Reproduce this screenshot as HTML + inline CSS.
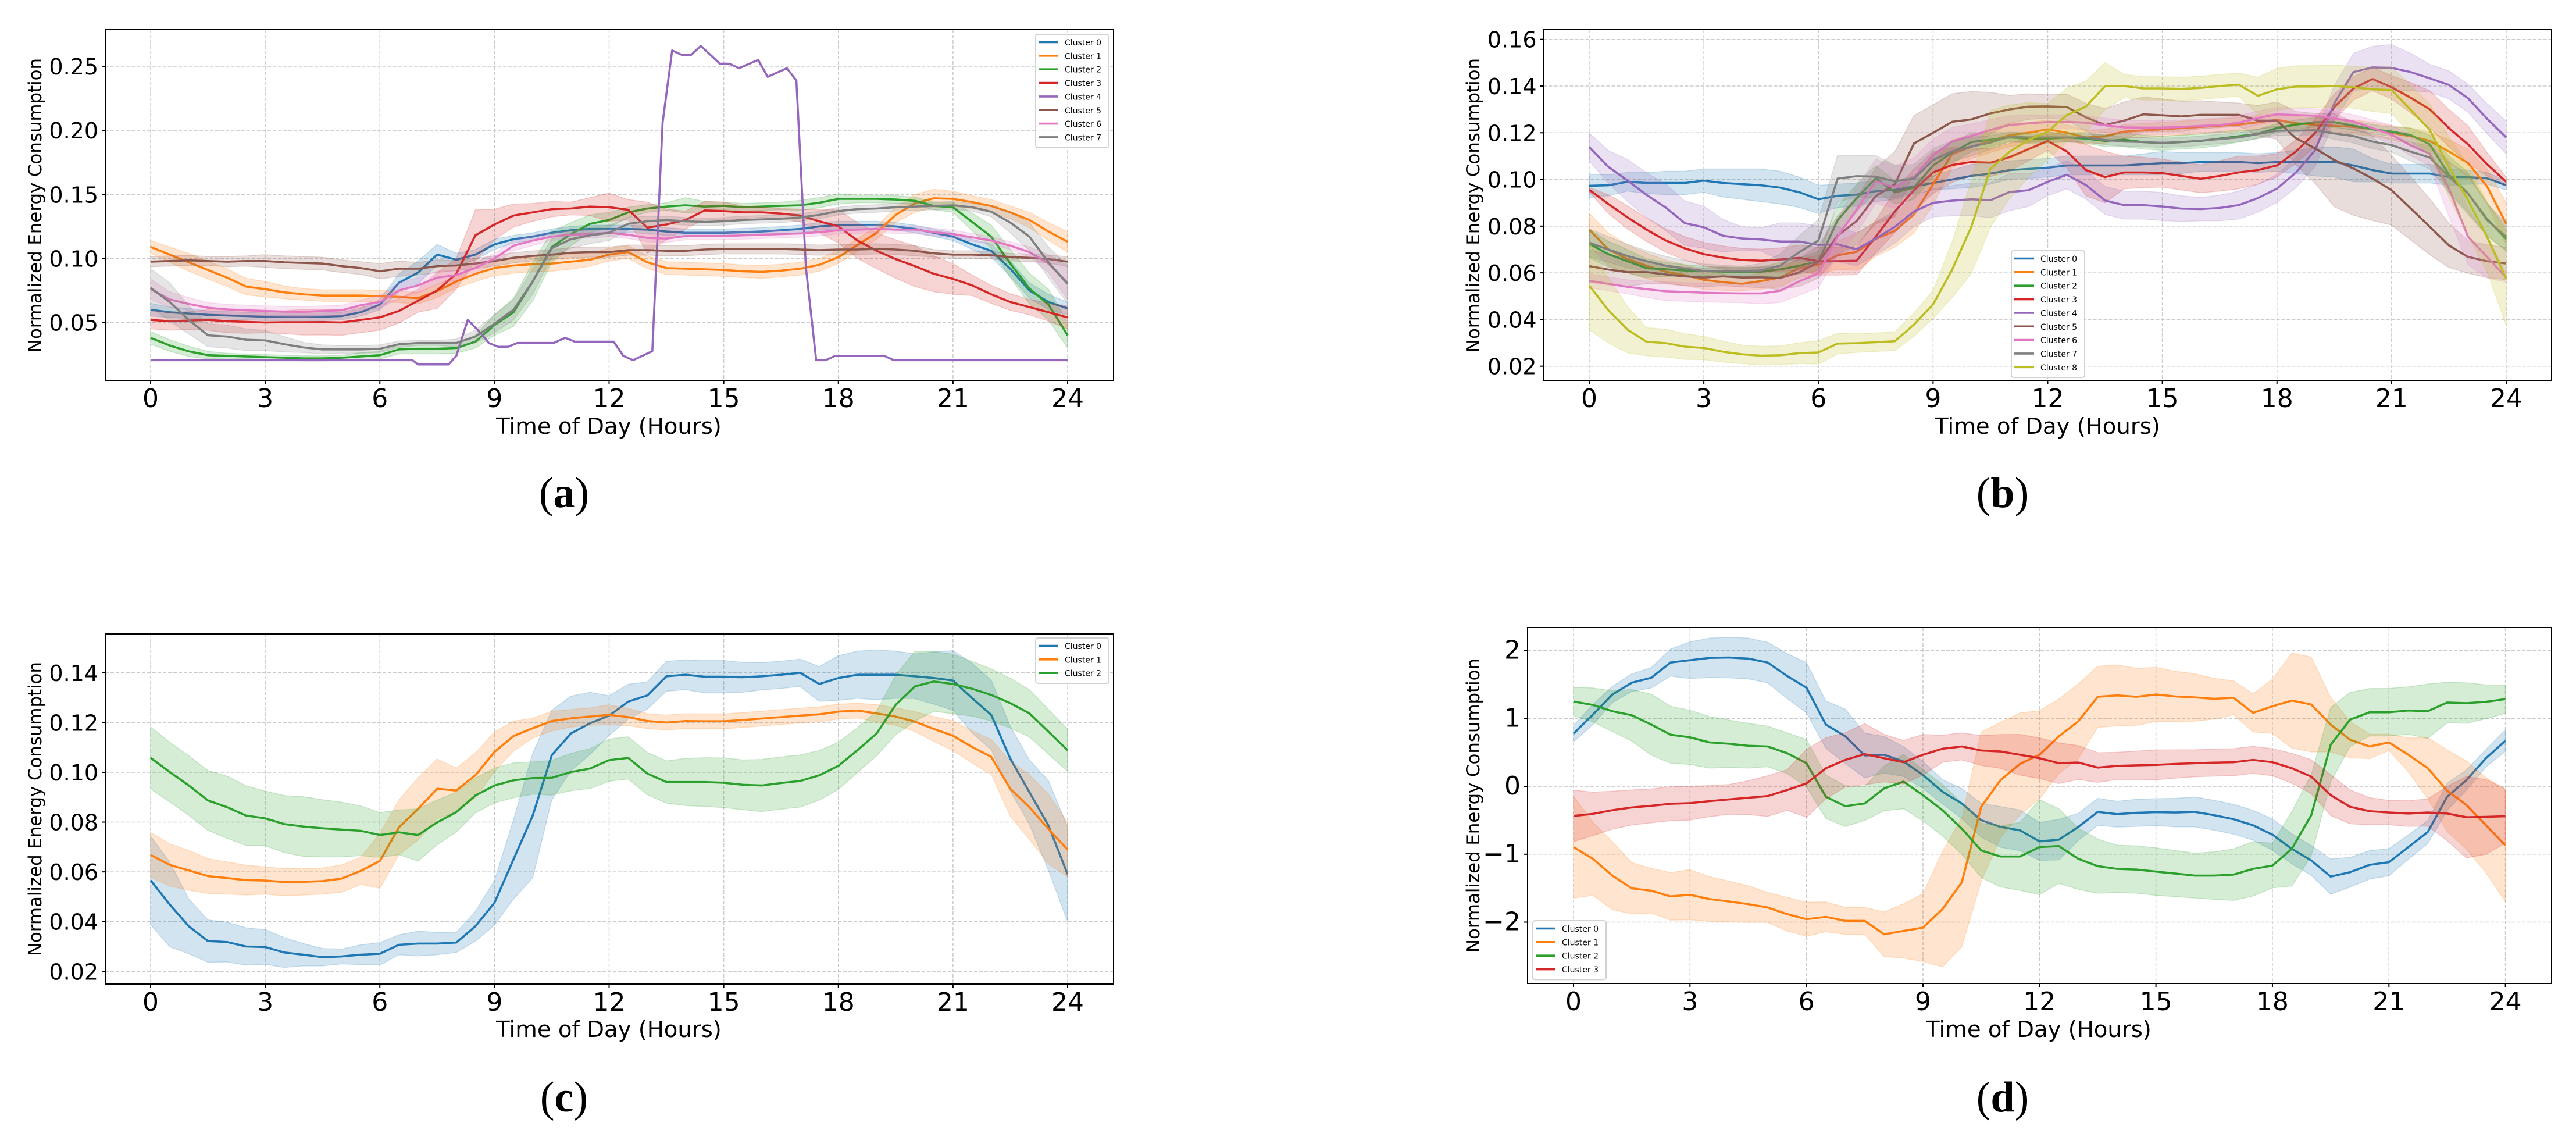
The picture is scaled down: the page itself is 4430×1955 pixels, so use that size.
<!DOCTYPE html>
<html lang="en">
<head>
<meta charset="utf-8">
<title>Normalized energy consumption clusters</title>
<style>
html,body{margin:0;padding:0;background:#fff;width:4430px;height:1955px;overflow:hidden}
svg{display:block}
text{font-family:"DejaVu Sans","Liberation Sans",sans-serif;fill:#000}
.caption{font-family:"Liberation Serif","DejaVu Serif",serif}
</style>
</head>
<body>
<svg id="figure" xmlns="http://www.w3.org/2000/svg" width="4430" height="1955" viewBox="0 0 4430 1955"></svg>
<script>
const halfHours = [
0,0.5,1,1.5,2,2.5,3,3.5,4,4.5,5,5.5,
6,6.5,7,7.5,8,8.5,9,9.5,10,10.5,11,11.5,
12,12.5,13,13.5,14,14.5,15,15.5,16,16.5,17,17.5,
18,18.5,19,19.5,20,20.5,21,21.5,22,22.5,23,23.5,24];
const xTickValues = [0,3,6,9,12,15,18,21,24];
const aYTicks = [0.05,0.10,0.15,0.20,0.25];
const bYTicks = [0.02,0.04,0.06,0.08,0.10,0.12,0.14,0.16];
const cYTicks = [0.02,0.04,0.06,0.08,0.10,0.12,0.14];
const dYTicks = [-2,-1,0,1,2];

/* Chart (a) */
const a0Mean = [.060,.058,.057,.056,.0555,.055,.0545,.0545,.0545,.0545,.055,.058,
.064,.081,.089,.103,.099,.103,.111,.115,.117,.120,.122,.123,
.123,.123,.1225,.121,.120,.120,.120,.1205,.121,.122,.123,.125,
.126,.126,.126,.125,.123,.120,.117,.111,.106,.092,.075,.066,.061];
const a0Std = [.005,.004,.004,.003,.003,.003,.003,.003,.003,.003,.003,.003,
.004,.007,.009,.008,.005,.004,.004,.003,.003,.003,.003,.003,
.003,.003,.003,.003,.003,.003,.003,.003,.003,.003,.003,.003,
.003,.003,.003,.003,.003,.003,.003,.004,.005,.006,.006,.006,.005];
const a1Mean = [.109,.103,.097,.091,.085,.078,.076,.0735,.072,.071,.071,.071,
.0705,.070,.069,.0745,.082,.088,.0925,.0945,.0955,.096,.0975,.099,
.103,.105,.097,.0925,.092,.0915,.091,.090,.0895,.0905,.092,.095,
.101,.1105,.120,.134,.143,.147,.1465,.144,.141,.136,.130,.121,.113];
const a1Std = [.005,.006,.007,.007,.007,.0065,.006,.005,.0045,.0045,.0045,.0045,
.0045,.0045,.0045,.005,.005,.006,.006,.006,.006,.006,.006,.005,
.005,.005,.005,.005,.005,.005,.005,.005,.005,.005,.005,.005,
.005,.005,.005,.006,.007,.007,.006,.005,.005,.005,.006,.007,.008];
const a2Mean = [.038,.032,.0275,.0245,.024,.0235,.023,.0225,.022,.022,.0225,.0235,
.0245,.029,.0295,.0295,.030,.035,.048,.058,.082,.109,.119,.127,
.130,.136,.139,.1405,.1415,.1405,.141,.140,.1405,.141,.1415,.1435,
.1465,.1465,.1465,.146,.145,.141,.140,.1285,.117,.096,.0765,.064,.040];
const a2Std = [.005,.0045,.004,.003,.002,.002,.002,.002,.002,.002,.002,.003,
.003,.0035,.004,.004,.004,.005,.008,.011,.015,.012,.009,.007,
.006,.004,.003,.003,.006,.004,.003,.003,.003,.003,.004,.004,
.004,.003,.003,.003,.003,.003,.004,.007,.009,.011,.012,.012,.010];
const a3Mean = [.052,.051,.0515,.052,.051,.0505,.050,.0502,.0502,.0503,.050,.052,
.054,.059,.067,.075,.088,.118,.1265,.1335,.136,.1385,.139,.1405,
.140,.138,.124,.1265,.130,.1375,.137,.136,.136,.135,.1335,.129,
.125,.114,.106,.0995,.094,.088,.084,.079,.072,.066,.062,.058,.054];
const a3Std = [.007,.007,.007,.008,.009,.009,.008,.009,.010,.010,.010,.010,
.010,.0095,.009,.014,.012,.020,.012,.009,.007,.006,.005,.007,
.011,.008,.020,.012,.007,.007,.007,.005,.004,.004,.005,.009,
.013,.014,.014,.015,.016,.014,.012,.008,.007,.0065,.006,.007,.009];
const a4Hours = [0,6.85,7,7.8,8,8.3,8.6,8.85,9.1,9.35,9.6,10.55,10.85,11.1,12.12,12.37,12.63,13.13,13.4,13.65,13.9,14.15,14.4,14.65,14.9,15.15,15.4,15.9,16.15,16.65,16.9,17.15,17.42,17.67,17.92,19.2,19.45,24];
const a4Mean = [.0206,.0206,.0172,.0172,.024,.052,.043,.034,.031,.031,.034,.034,.038,.035,.035,.024,.0206,.0276,.206,.2624,.259,.259,.266,.259,.252,.252,.2485,.255,.2418,.2485,.239,.093,.0206,.0206,.024,.024,.0206,.0206];
const a5Mean = [.0975,.098,.0985,.098,.0975,.098,.098,.097,.0965,.096,.094,.0925,
.090,.092,.092,.094,.0945,.096,.098,.1005,.102,.103,.1045,.105,
.105,.1065,.1065,.106,.106,.107,.1075,.1075,.1075,.1075,.107,.1065,
.107,.107,.1075,.107,.106,.104,.103,.103,.1025,.101,.1005,.0995,.0975];
const a5Std = [.004,.004,.004,.0035,.004,.004,.005,.005,.005,.005,.005,.005,
.006,.006,.005,.005,.004,.004,.004,.004,.004,.004,.004,.004,
.004,.004,.004,.004,.004,.004,.004,.004,.004,.004,.004,.004,
.004,.004,.004,.004,.004,.003,.003,.003,.003,.003,.003,.003,.004];
const a6Mean = [.076,.068,.0645,.0615,.0602,.0595,.059,.0585,.0583,.059,.0595,.0635,
.066,.075,.079,.085,.087,.0925,.100,.110,.114,.117,.1185,.119,
.120,.1185,.116,.1155,.1175,.1175,.1175,.118,.1185,.119,.1195,.1205,
.122,.1225,.123,.1225,.1225,.1205,.119,.1165,.114,.110,.105,.096,.081];
const a6Std = [.008,.006,.005,.004,.004,.004,.004,.004,.004,.004,.004,.004,
.005,.006,.006,.005,.004,.004,.004,.004,.004,.003,.003,.003,
.003,.003,.003,.003,.003,.003,.003,.003,.003,.003,.003,.003,
.003,.003,.003,.003,.003,.003,.003,.003,.003,.003,.004,.007,.013];
const a7Mean = [.077,.066,.052,.040,.039,.0365,.036,.033,.0305,.029,.029,.029,
.0295,.033,.034,.034,.034,.039,.049,.060,.082,.108,.115,.118,
.120,.127,.129,.130,.129,.1285,.129,.130,.1305,.131,.132,.134,
.137,.1385,.139,.140,.1405,.141,.1415,.140,.1365,.128,.117,.097,.080];
const a7Std = [.015,.015,.011,.009,.009,.0085,.008,.006,.004,.0035,.003,.003,
.003,.0025,.002,.002,.003,.005,.007,.008,.010,.007,.007,.0065,
.006,.005,.004,.003,.003,.003,.003,.003,.003,.003,.003,.003,
.003,.003,.003,.003,.003,.003,.003,.003,.004,.008,.011,.012,.015];

/* Chart (b) */
const b0Mean = [.0973,.0975,.099,.0985,.0985,.0985,.0995,.0985,.098,.0975,.0965,.0945,
.0915,.093,.0935,.095,.0955,.097,.0985,.100,.1015,.1025,.104,.1045,
.105,.106,.106,.106,.106,.1065,.107,.107,.1075,.1075,.1075,.107,
.1075,.1075,.1075,.1075,.106,.104,.1025,.1025,.1025,.101,.101,.1005,.0975];
const b0Std = [.005,.0045,.004,.0045,.005,.005,.005,.006,.0065,.007,.007,.0065,
.006,.005,.005,.0045,.004,.0035,.003,.004,.005,.0045,.004,.004,
.004,.004,.004,.004,.004,.0045,.005,.0045,.004,.004,.004,.004,
.004,.005,.006,.0065,.007,.005,.004,.004,.004,.0035,.003,.0025,.002];
const b1Mean = [.0785,.070,.066,.063,.0605,.059,.057,.056,.0553,.0565,.058,.062,
.0635,.0675,.069,.0745,.078,.085,.098,.111,.114,.1165,.119,.120,
.1215,.120,.118,.1185,.1205,.121,.1215,.122,.1225,.123,.1235,.1245,
.1255,.124,.1235,.123,.1225,.1215,.120,.1185,.1165,.112,.107,.097,.081];
const b1Std = [.007,.007,.006,.0055,.005,.0045,.004,.0035,.003,.0035,.004,.004,
.004,.006,.008,.0075,.007,.008,.009,.006,.005,.005,.005,.0045,
.004,.0035,.003,.003,.003,.003,.003,.003,.003,.003,.003,.003,
.003,.003,.003,.003,.003,.003,.003,.0035,.004,.005,.006,.0075,.009];
const b2Mean = [.0725,.068,.065,.062,.0615,.061,.0608,.0605,.0605,.0605,.0615,.063,
.065,.0825,.092,.1005,.0945,.0965,.106,.1115,.116,.117,.118,.1175,
.1175,.118,.1175,.1165,.117,.116,.1155,.116,.1165,.1175,.1185,.1195,
.122,.1235,.1245,.1245,.123,.1215,.1205,.119,.115,.102,.094,.083,.0745];
const b2Std = [.006,.0055,.005,.004,.003,.0025,.002,.002,.002,.002,.003,.0035,
.004,.006,.006,.0055,.005,.005,.005,.0045,.004,.003,.002,.002,
.002,.002,.002,.0025,.003,.003,.003,.003,.003,.003,.0025,.002,
.002,.002,.002,.002,.002,.002,.002,.003,.004,.008,.009,.007,.005];
const b3Mean = [.0956,.0895,.0838,.0785,.0739,.0705,.068,.0665,.0655,.0652,.0657,.0664,
.065,.065,.0652,.0755,.0863,.0954,.103,.1062,.1075,.1072,.1095,.113,
.1165,.112,.104,.101,.103,.103,.1027,.1015,.1003,.1015,.103,.104,
.106,.112,.120,.131,.139,.143,.1395,.135,.130,.122,.115,.1065,.099];
const b3Std = [.001,.004,.005,.005,.005,.005,.005,.005,.005,.005,.005,.0055,
.006,.006,.006,.007,.009,.009,.009,.0075,.006,.006,.006,.005,
.004,.007,.011,.011,.007,.0065,.006,.006,.006,.0065,.007,.006,
.005,.005,.006,.0055,.005,.005,.005,.0065,.008,.008,.008,.005,.002];
const b4Mean = [.1139,.1054,.0996,.0934,.088,.0813,.0795,.0759,.0747,.0743,.0734,.0734,
.072,.0722,.0701,.0747,.0797,.0863,.090,.0909,.0915,.0911,.0946,.0954,
.099,.102,.0976,.091,.089,.089,.0884,.0875,.0873,.0878,.089,.092,
.0961,.103,.1126,.1326,.146,.148,.1478,.146,.1433,.1405,.1348,.126,.118];
const b4Std = [.006,.007,.009,.0095,.010,.0095,.009,.007,.005,.005,.008,.008,
.008,.0075,.007,.007,.007,.0065,.006,.0065,.007,.0075,.008,.007,
.006,.006,.006,.006,.006,.006,.006,.0055,.005,.0055,.006,.006,
.006,.0065,.007,.0075,.008,.009,.010,.008,.006,.006,.006,.0065,.007];
const b5Mean = [.0629,.0614,.0603,.0603,.0593,.0585,.058,.0585,.058,.0581,.0578,.0602,
.0647,.0759,.0822,.0929,.098,.1154,.120,.1247,.1257,.1283,.130,.1312,
.1313,.131,.1266,.1233,.1252,.1279,.1275,.127,.1277,.1277,.1277,.1252,
.1252,.1176,.1133,.1083,.1047,.1004,.0954,.0876,.0797,.0718,.0668,.065,.064];
const b5Std = [.007,.0065,.006,.005,.004,.004,.004,.004,.004,.0045,.005,.006,
.007,.0085,.010,.012,.014,.012,.012,.012,.012,.009,.006,.0055,
.005,.0055,.006,.007,.008,.0075,.007,.0065,.006,.0055,.005,.0065,
.008,.0115,.015,.020,.020,.018,.015,.0135,.012,.0095,.007,.007,.007];
const b6Mean = [.0566,.0553,.054,.053,.0521,.0518,.0515,.0513,.0512,.0512,.0523,.0564,
.0597,.0755,.0871,.0992,.0967,.1012,.1104,.1162,.1187,.1212,.1233,.124,
.1246,.1247,.1243,.1232,.1223,.1222,.1222,.1225,.1229,.1233,.1243,.1263,
.1279,.1276,.1273,.1262,.1248,.122,.1192,.1146,.111,.0962,.0755,.0668,.058];
const b6Std = [.003,.003,.003,.0035,.004,.004,.004,.004,.004,.0045,.005,.006,
.006,.008,.010,.0095,.009,.008,.007,.006,.005,.0045,.004,.0035,
.003,.003,.003,.003,.003,.003,.003,.003,.003,.003,.003,.003,
.003,.003,.003,.003,.003,.0035,.004,.0045,.005,.012,.012,.009,.002];
const b7Mean = [.0729,.0700,.0672,.065,.0631,.0618,.0608,.0608,.0608,.061,.0631,.0689,
.0739,.1004,.1014,.1012,.0992,.1004,.1083,.112,.1141,.1158,.1183,.118,
.118,.118,.118,.1169,.1162,.116,.1157,.116,.1166,.1173,.118,.1195,
.1209,.1209,.1211,.1197,.1186,.1162,.1147,.1119,.1094,.1011,.094,.0826,.0754];
const b7Std = [.006,.0055,.005,.0045,.004,.0035,.003,.0025,.002,.003,.005,.007,
.009,.010,.009,.009,.007,.006,.005,.0045,.004,.003,.002,.002,
.002,.002,.002,.002,.002,.002,.002,.002,.002,.002,.002,.002,
.002,.002,.002,.0025,.003,.003,.003,.004,.005,.0065,.008,.007,.006];
const b8Mean = [.0546,.044,.0357,.0305,.0299,.0284,.0278,.0262,.0251,.0245,.0247,.0256,
.0259,.0297,.0299,.0303,.0307,.0378,.0465,.0614,.0797,.1045,.1119,.1169,
.1205,.1276,.1312,.14,.14,.139,.139,.1388,.1392,.14,.1406,.1358,
.1386,.1398,.1398,.14,.1395,.1386,.1383,.1298,.1212,.1054,.0911,.0754,.0575];
const b8Std = [.019,.014,.010,.006,.006,.0055,.005,.0045,.004,.004,.004,.0045,
.005,.0045,.004,.004,.004,.005,.006,.012,.020,.025,.020,.016,
.012,.0115,.011,.010,.005,.005,.005,.005,.005,.005,.005,.008,
.009,.009,.009,.009,.009,.0095,.010,.0105,.011,.013,.015,.015,.020];

/* Chart (c) */
const c0Mean = [.0566,.0469,.0381,.0322,.0318,.03,.0298,.0276,.0267,.0257,.026,.0267,
.0271,.0307,.0312,.0312,.0316,.0381,.0476,.0651,.0826,.1069,.1156,.1197,
.1228,.1284,.1309,.1386,.1392,.1384,.1384,.1382,.1386,.1392,.14,.1355,
.1379,.1392,.1392,.1392,.1386,.1379,.1369,.1298,.1231,.1055,.092,.0786,.059];
const c0Std = [.0178,.017,.011,.0085,.008,.0075,.007,.006,.0045,.0035,.003,.004,
.0045,.004,.005,.0045,.004,.006,.009,.016,.025,.018,.015,.0125,
.008,.007,.0055,.006,.006,.0065,.0065,.006,.0055,.0055,.0055,.007,
.009,.0095,.010,.0095,.009,.0105,.012,.014,.014,.013,.013,.018,.019];
const c1Mean = [.0668,.0628,.0606,.0583,.0575,.0567,.0565,.0559,.056,.0563,.0573,.0604,
.0644,.0779,.0853,.0934,.0927,.0988,.1082,.1146,.1177,.1206,.1217,.1224,
.1231,.1222,.1206,.12,.1206,.1205,.1205,.121,.1216,.1222,.1228,.1233,
.1244,.1248,.1237,.1224,.1204,.1174,.1147,.1102,.1062,.0934,.086,.0772,.0689];
const c1Std = [.009,.0085,.008,.007,.0065,.006,.0055,.0055,.0053,.0053,.0055,.0055,
.011,.011,.0125,.012,.009,.009,.008,.006,.004,.004,.0035,.0035,
.004,.0035,.003,.003,.003,.003,.003,.003,.003,.003,.003,.003,
.003,.003,.0035,.0035,.004,.005,.006,.0065,.007,.011,.013,.014,.011];
const c2Mean = [.1058,.1001,.0947,.0887,.086,.0826,.0815,.0792,.0782,.0775,.077,.0765,
.0748,.0759,.0748,.0799,.084,.0907,.0947,.0968,.0977,.0978,.1001,.1015,
.1049,.1058,.0995,.0961,.0961,.0961,.0958,.095,.0947,.0957,.0965,.0988,
.1026,.1089,.1156,.1271,.1345,.1365,.1355,.1336,.1311,.1278,.1237,.1163,.1089];
const c2Std = [.0125,.012,.012,.012,.0125,.012,.011,.0115,.012,.0115,.011,.010,
.009,.009,.0105,.009,.008,.007,.007,.007,.0065,.007,.0075,.008,
.0085,.0085,.0085,.0085,.0095,.0098,.010,.010,.0105,.0105,.0105,.010,
.0095,.009,.009,.012,.014,.012,.012,.011,.0105,.010,.0095,.009,.0085];

/* Chart (d) */
const d0Mean = [.776,1.058,1.354,1.527,1.60,1.824,1.859,1.893,1.898,1.883,1.824,1.626,
1.453,.91,.737,.455,.465,.366,.168,-.079,-.252,-.499,-.598,-.648,
-.811,-.786,-.598,-.376,-.41,-.39,-.38,-.386,-.376,-.425,-.484,-.573,
-.712,-.92,-1.092,-1.33,-1.265,-1.157,-1.117,-.895,-.672,-.153,.094,.415,.672];
const d0Std = [.12,.15,.12,.13,.15,.2,.27,.29,.3,.3,.3,.33,
.37,.35,.4,.33,.27,.22,.2,.18,.22,.25,.3,.3,
.28,.3,.2,.2,.19,.2,.2,.21,.22,.22,.22,.22,
.23,.22,.22,.26,.22,.21,.2,.18,.17,.2,.15,.13,.16];
const d1Mean = [-.895,-1.068,-1.315,-1.503,-1.537,-1.621,-1.597,-1.661,-1.696,-1.735,-1.784,-1.883,
-1.957,-1.923,-1.982,-1.982,-2.18,-2.13,-2.081,-1.81,-1.414,-.30,.094,.331,
.465,.737,.959,1.32,1.34,1.32,1.354,1.325,1.31,1.29,1.305,1.083,
1.18,1.265,1.206,.91,.687,.588,.648,.465,.267,-.064,-.277,-.573,-.87];
const d1Std = [.75,.54,.5,.38,.33,.35,.37,.33,.3,.27,.22,.25,
.25,.22,.2,.2,.33,.4,.5,.85,.95,1.1,.85,.75,
.65,.55,.55,.45,.45,.42,.4,.37,.35,.3,.25,.28,
.4,.7,.7,.4,.27,.18,.12,.25,.45,.6,.65,.7,.83];
const d2Mean = [1.25,1.2,1.107,1.048,.91,.761,.722,.648,.628,.598,.588,.489,
.341,-.153,-.292,-.252,-.03,.069,-.129,-.351,-.623,-.944,-1.033,-1.033,
-.895,-.88,-1.068,-1.176,-1.216,-1.226,-1.256,-1.285,-1.315,-1.315,-1.3,-1.216,
-1.167,-.92,-.425,.613,.984,1.092,1.092,1.117,1.107,1.236,1.226,1.246,1.285];
const d2Std = [.21,.25,.3,.38,.45,.42,.4,.38,.35,.33,.3,.3,
.35,.32,.3,.25,.33,.4,.38,.38,.38,.4,.45,.5,
.7,.55,.45,.4,.35,.35,.35,.34,.33,.35,.38,.4,
.33,.55,.6,.55,.4,.35,.35,.35,.4,.3,.3,.25,.21];
const d3Mean = [-.435,-.405,-.351,-.311,-.287,-.257,-.247,-.218,-.193,-.168,-.143,-.054,
.044,.267,.39,.475,.415,.356,.465,.554,.588,.529,.514,.465,
.415,.341,.351,.277,.302,.31,.316,.33,.341,.35,.356,.39,
.356,.267,.143,-.129,-.302,-.366,-.386,-.4,-.386,-.4,-.455,-.45,-.44];
const d3Std = [.38,.32,.28,.26,.25,.25,.25,.23,.22,.25,.3,.3,
.5,.45,.4,.45,.35,.32,.3,.2,.2,.22,.25,.3,
.3,.3,.25,.22,.2,.21,.22,.21,.2,.2,.2,.2,
.2,.22,.25,.3,.25,.2,.18,.19,.2,.4,.6,.55,.4];

const palette = ['#1f77b4','#ff7f0e','#2ca02c','#d62728','#9467bd','#8c564b','#e377c2','#7f7f7f','#bcbd22'];
const NS = 'http://www.w3.org/2000/svg';
const root = document.getElementById('figure');

function make(parent, tag, attrs, content) {
  const el = document.createElementNS(NS, tag);
  for (const k in attrs) el.setAttribute(k, attrs[k]);
  if (content !== undefined) el.textContent = content;
  parent.appendChild(el);
  return el;
}

function drawChart(cfg) {
  const g = make(root, 'g', {});
  
  

  const xScale = h => cfg.x0 + (h / 24) * (cfg.x24 - cfg.x0);
  const yScale = v => cfg.yA + (v - cfg.vA) / (cfg.vB - cfg.vA) * (cfg.yB - cfg.yA);

  // grid
  xTickValues.forEach(t => {
    const l = make(g, 'line', {x1: xScale(t), x2: xScale(t), y1: cfg.top, y2: cfg.bottom, stroke: '#cbcbcb', 'stroke-width': 1.5, 'stroke-dasharray': '6 3'});
    
    
  });
  cfg.yTicks.forEach(t => {
    const l = make(g, 'line', {x1: cfg.left, x2: cfg.right, y1: yScale(t), y2: yScale(t), stroke: '#cbcbcb', 'stroke-width': 1.5, 'stroke-dasharray': '6 3'});
    
    
  });

  // bands then lines per series, in order
  cfg.series.forEach((s, i) => {
    const color = palette[i];
    const hrs = s.hours || halfHours;
    if (s.std) {
      const upper = hrs.map((h, k) => xScale(h).toFixed(1) + ',' + yScale(s.mean[k] + s.std[k]).toFixed(1));
      const lower = hrs.map((h, k) => xScale(h).toFixed(1) + ',' + yScale(s.mean[k] - s.std[k]).toFixed(1)).reverse();
      const band = make(g, 'polygon', {points: upper.concat(lower).join(' '), fill: color, 'fill-opacity': 0.2, stroke: color, 'stroke-opacity': 0.2, 'stroke-width': 1.5});
      
      
    }
    const line = make(g, 'polyline', {points: hrs.map((h, k) => xScale(h).toFixed(1) + ',' + yScale(s.mean[k]).toFixed(1)).join(' '), fill: 'none', stroke: color, 'stroke-width': 3.6, 'stroke-linejoin': 'round'});
    
    
  });

  // spines
  const frame = make(g, 'rect', {x: cfg.left, y: cfg.top, width: cfg.right - cfg.left, height: cfg.bottom - cfg.top, fill: 'none', stroke: '#000', 'stroke-width': 2});
  
  

  // x ticks
  xTickValues.forEach(t => {
    const tick = make(g, 'line', {x1: xScale(t), x2: xScale(t), y1: cfg.bottom, y2: cfg.bottom + 6, stroke: '#000', 'stroke-width': 2});
    
    
    const lab = make(g, 'text', {x: xScale(t), y: cfg.bottom + 46, 'text-anchor': 'middle', 'font-size': 44}, String(t));
    
    
  });

  // y ticks
  cfg.yTicks.forEach(t => {
    const tick = make(g, 'line', {x1: cfg.left - 6, x2: cfg.left, y1: yScale(t), y2: yScale(t), stroke: '#000', 'stroke-width': 2});
    
    
    const txt = cfg.decimals ? t.toFixed(cfg.decimals) : (t < 0 ? '\u2212' + Math.abs(t) : String(t));
    const lab = make(g, 'text', {x: cfg.left - 12, y: yScale(t) + 14, 'text-anchor': 'end', 'font-size': cfg.decimals ? 38 : 44}, txt);
    
    
  });

  // axis titles
  const xt = make(g, 'text', {x: cfg.xLabelX, y: cfg.xLabelY, 'text-anchor': 'middle', 'font-size': 38.6}, 'Time of Day (Hours)');
  
  

  const yt = make(g, 'text', {transform: 'translate(' + cfg.yLabelX + ',' + cfg.yLabelY + ') rotate(-90)', 'text-anchor': 'middle', 'font-size': 30.8}, 'Normalized Energy Consumption');
  
  

  // legend
  const lg = make(g, 'g', {});
  
  
  const lh = cfg.series.length * 23.35 + 8;
  make(lg, 'rect', {x: cfg.legendX, y: cfg.legendY, width: 126, height: lh, rx: 4, fill: '#fff', 'fill-opacity': 0.8, stroke: '#d2d2d2', 'stroke-width': 2});
  cfg.series.forEach((s, i) => {
    const rowY = cfg.legendY + 13.5 + i * 23.35;
    const entry = make(lg, 'g', {});
    
    
    make(entry, 'line', {x1: cfg.legendX + 5, x2: cfg.legendX + 39, y1: rowY, y2: rowY, stroke: palette[i], 'stroke-width': 3.6});
    make(entry, 'text', {x: cfg.legendX + 50, y: rowY + 5.5, 'font-size': 14}, 'Cluster ' + i);
  });

  // caption
  const cap = make(g, 'text', {class: 'caption', x: cfg.capX, y: cfg.capY, 'text-anchor': 'middle', 'font-size': 74});
  
  
  make(cap, 'tspan', {}, '(');
  make(cap, 'tspan', {'font-weight': 'bold'}, cfg.id);
  make(cap, 'tspan', {}, ')');
}

drawChart({id:'a', left:181, right:1915, top:51, bottom:654, x0:259, x24:1836,
  yA:554.5, vA:0.05, yB:114, vB:0.25, yTicks:aYTicks, decimals:2,
  xLabelX:1047, xLabelY:746, yLabelX:71, yLabelY:353,
  legendX:1781, legendY:59, capX:970, capY:872,
  series:[{mean:a0Mean,std:a0Std},{mean:a1Mean,std:a1Std},{mean:a2Mean,std:a2Std},{mean:a3Mean,std:a3Std},
          {mean:a4Mean,hours:a4Hours},{mean:a5Mean,std:a5Std},{mean:a6Mean,std:a6Std},{mean:a7Mean,std:a7Std}]});

drawChart({id:'b', left:2654.5, right:4388, top:51, bottom:654, x0:2733, x24:4310,
  yA:629.7, vA:0.02, yB:67.7, vB:0.16, yTicks:bYTicks, decimals:2,
  xLabelX:3521, xLabelY:746, yLabelX:2544, yLabelY:353,
  legendX:3459, legendY:431, capX:3444, capY:872,
  series:[{mean:b0Mean,std:b0Std},{mean:b1Mean,std:b1Std},{mean:b2Mean,std:b2Std},{mean:b3Mean,std:b3Std},
          {mean:b4Mean,std:b4Std},{mean:b5Mean,std:b5Std},{mean:b6Mean,std:b6Std},{mean:b7Mean,std:b7Std},{mean:b8Mean,std:b8Std}]});

drawChart({id:'c', left:181, right:1915, top:1090, bottom:1692, x0:259, x24:1836,
  yA:1670.3, vA:0.02, yB:1156.8, vB:0.14, yTicks:cYTicks, decimals:2,
  xLabelX:1047, xLabelY:1783, yLabelX:71, yLabelY:1391,
  legendX:1781, legendY:1097, capX:970, capY:1911,
  series:[{mean:c0Mean,std:c0Std},{mean:c1Mean,std:c1Std},{mean:c2Mean,std:c2Std}]});

drawChart({id:'d', left:2627, right:4388, top:1079, bottom:1691, x0:2706, x24:4308.6,
  yA:1585.5, vA:-2, yB:1118.7, vB:2, yTicks:dYTicks, decimals:0,
  xLabelX:3506, xLabelY:1783, yLabelX:2544, yLabelY:1385,
  legendX:2636, legendY:1583, capX:3444, capY:1911,
  series:[{mean:d0Mean,std:d0Std},{mean:d1Mean,std:d1Std},{mean:d2Mean,std:d2Std},{mean:d3Mean,std:d3Std}]});
</script>
</body>
</html>
